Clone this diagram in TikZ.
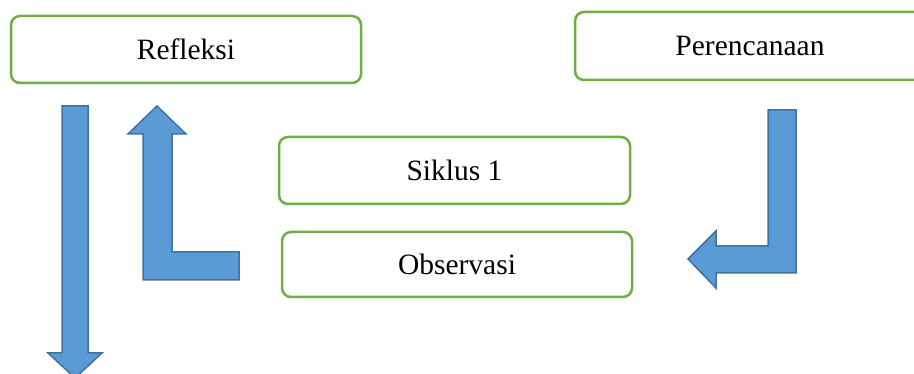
\documentclass[tikz,border=0pt]{standalone}
\usepackage{fontspec}
\setmainfont{Liberation Serif}
\definecolor{boxgreen}{HTML}{70AD47}
\definecolor{arrowblue}{HTML}{5B9BD5}
\definecolor{arrowedge}{HTML}{41719C}
\begin{document}
\begin{tikzpicture}[x=1pt,y=-1pt,
  box/.style={draw=boxgreen, line width=2.5pt, rounded corners=9pt, fill=white,
    inner sep=0pt, font=\fontsize{29.5}{34}\selectfont},
  blockarrow/.style={fill=arrowblue, draw=arrowedge, line width=1.5pt, line join=miter}]
\useasboundingbox (0,0) rectangle (914,374);
\clip (0,0) rectangle (914,374);
\node[box, minimum width=350pt, minimum height=67pt] (refleksi) at (186,49.5) {Refleksi};
\node[box, minimum width=350pt, minimum height=68pt] (perencanaan) at (750,46) {Perencanaan};
\node[box, minimum width=351pt, minimum height=67pt] (siklus) at (454.5,170.5) {Siklus 1};
\node[box, minimum width=350pt, minimum height=65pt] (observasi) at (457,264.5) {Observasi};
% down arrow
\draw[blockarrow] (62,106) -- (88,106) -- (88,353) -- (102,353) -- (75,378) -- (48,353) -- (62,353) -- cycle;
% up L arrow
\draw[blockarrow] (157,106) -- (186,134) -- (172,134) -- (172,252) -- (239,252) -- (239,280) -- (143,280) -- (143,134) -- (128,134) -- cycle;
% right L arrow
\draw[blockarrow] (768,110) -- (796,110) -- (796,273) -- (716,273) -- (716,288) -- (688,259) -- (716,231) -- (716,246) -- (768,246) -- cycle;
\end{tikzpicture}
\end{document}
